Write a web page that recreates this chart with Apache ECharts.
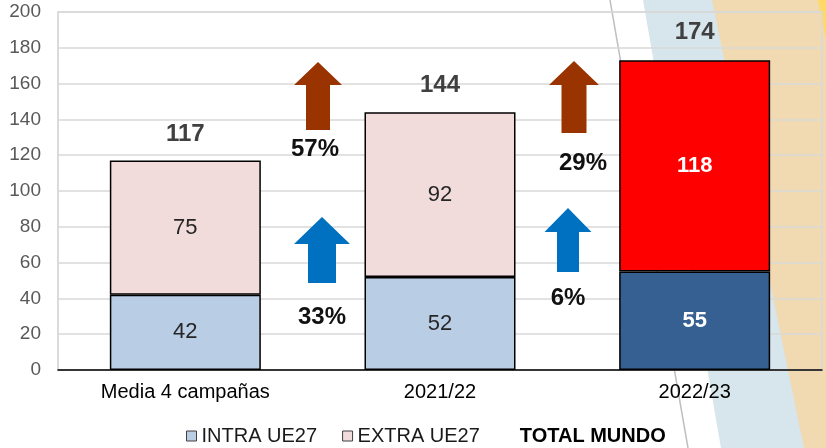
<!DOCTYPE html>
<html><head><meta charset="utf-8">
<script src="https://cdn.jsdelivr.net/npm/echarts@6/dist/echarts.min.js"></script>
<style>html,body{margin:0;padding:0;background:#fff}#c{width:826px;height:448px}</style>
</head><body><div id="c"></div>
<script>
const categories = ['Media 4 campañas', '2021/22', '2022/23'];
const intraValues = [42, 52, 55];
const extraValues = [75, 92, 118];
const totalValues = [117, 144, 174];
const yTicks = [0, 20, 40, 60, 80, 100, 120, 140, 160, 180, 200];
const extraGrowth = ['57%', '29%'];
const intraGrowth = ['33%', '6%'];
const seriesNames = ['INTRA UE27', 'EXTRA UE27', 'TOTAL MUNDO'];

const FONT = "'Liberation Sans', Arial, sans-serif";
const chart = echarts.init(document.getElementById('c'), null, {renderer: 'canvas'});

const lastIdx = categories.length - 1;
const intraData = intraValues.map((v, i) => i === lastIdx
  ? {value: v, itemStyle: {color: '#376092'}, label: {color: '#fff', fontWeight: 'bold'}}
  : v);
const extraData = extraValues.map((v, i) => i === lastIdx
  ? {value: v, itemStyle: {color: '#FF0000'}, label: {color: '#fff', fontWeight: 'bold'}}
  : v);

function arrow(cx, tipY, headY, headHalf, shaftHalf, bottomY, color) {
  return {
    type: 'polygon', z: 100, silent: true,
    shape: {points: [[cx, tipY], [cx + headHalf, headY], [cx + shaftHalf, headY], [cx + shaftHalf, bottomY],
                     [cx - shaftHalf, bottomY], [cx - shaftHalf, headY], [cx - headHalf, headY]]},
    style: {fill: color}
  };
}
function pct(text, x, y) {
  return {type: 'text', z: 100, silent: true, x: x, y: y,
    style: {text: text, font: 'bold 24px ' + FONT, fill: '#111', textAlign: 'center', textVerticalAlign: 'middle'}};
}

chart.setOption({
  animation: false,
  textStyle: {fontFamily: FONT},
  grid: {left: 58, right: 4, top: 12, bottom: 78, show: true, borderColor: '#D9D9D9', borderWidth: 1.5, backgroundColor: 'transparent'},
  legend: {
    left: 181, top: 421, itemWidth: 10, itemHeight: 10, itemGap: 25,
    textStyle: {fontSize: 20, color: '#1a1a1a', fontFamily: FONT},
    data: [
      {name: seriesNames[0], icon: 'rect', itemStyle: {color: '#B9CDE5', borderColor: '#404040', borderWidth: 1}},
      {name: seriesNames[1], icon: 'rect', itemStyle: {color: '#F2DCDB', borderColor: '#404040', borderWidth: 1}},
      {name: seriesNames[2], icon: 'rect', itemStyle: {opacity: 0}, textStyle: {fontWeight: 'bold', color: '#000'}}
    ]
  },
  xAxis: {
    type: 'category', data: categories,
    axisLine: {lineStyle: {color: '#000', width: 1.5}},
    axisTick: {show: false},
    axisLabel: {fontSize: 20, color: '#000', margin: 12, fontFamily: FONT}
  },
  yAxis: {
    type: 'value', min: yTicks[0], max: yTicks[yTicks.length - 1], interval: yTicks[1] - yTicks[0],
    axisLine: {show: true, lineStyle: {color: '#D9D9D9', width: 1.5}},
    axisTick: {show: false},
    splitLine: {lineStyle: {color: '#D9D9D9', width: 1.5}},
    axisLabel: {fontSize: 19, color: '#595959', margin: 17, fontFamily: FONT}
  },
  series: [
    {name: seriesNames[0], type: 'bar', stack: 'a', barWidth: 151, data: intraData,
     itemStyle: {color: '#B9CDE5', borderColor: '#000', borderWidth: 1.5},
     label: {show: true, position: 'inside', fontSize: 22, color: '#262626', fontFamily: FONT}},
    {name: seriesNames[1], type: 'bar', stack: 'a', barWidth: 151, data: extraData,
     itemStyle: {color: '#F2DCDB', borderColor: '#000', borderWidth: 1.5},
     label: {show: true, position: 'inside', fontSize: 22, color: '#262626', fontFamily: FONT}},
    {name: seriesNames[2], type: 'line', data: totalValues, symbol: 'circle', symbolSize: 1, showSymbol: true,
     lineStyle: {opacity: 0}, z: 5,
     itemStyle: {color: 'rgba(0,0,0,0)'},
     label: {show: true, position: 'top', distance: 14, fontSize: 24, fontWeight: 'bold', color: '#404040', fontFamily: FONT}}
  ],
  graphic: [
    {type: 'polygon', z: -10, silent: true, shape: {points: [[643, 0], [826, 0], [826, 448], [721, 448]]}, style: {fill: '#D7E5EC'}},
    {type: 'polygon', z: -9, silent: true, shape: {points: [[712, 0], [826, 0], [826, 448], [804, 448]]}, style: {fill: '#F1D9B1'}},
    {type: 'polygon', z: -8, silent: true, shape: {points: [[818, 0], [826, 0], [826, 40]]}, style: {fill: '#FFD966'}},
    {type: 'line', z: -7, silent: true, shape: {x1: 610, y1: 0, x2: 688, y2: 448}, style: {stroke: '#BFBFBF', lineWidth: 1.5}},
    arrow(318, 62, 85, 24, 12, 130, '#993300'),
    arrow(322, 217, 244, 28, 14, 283, '#0070C0'),
    arrow(574, 61, 85, 25, 12.5, 133, '#993300'),
    arrow(568, 208, 232, 23.5, 11, 272, '#0070C0'),
    pct(extraGrowth[0], 315, 149),
    pct(intraGrowth[0], 322, 317),
    pct(extraGrowth[1], 583, 163),
    pct(intraGrowth[1], 568, 298)
  ]
});
</script></body></html>
